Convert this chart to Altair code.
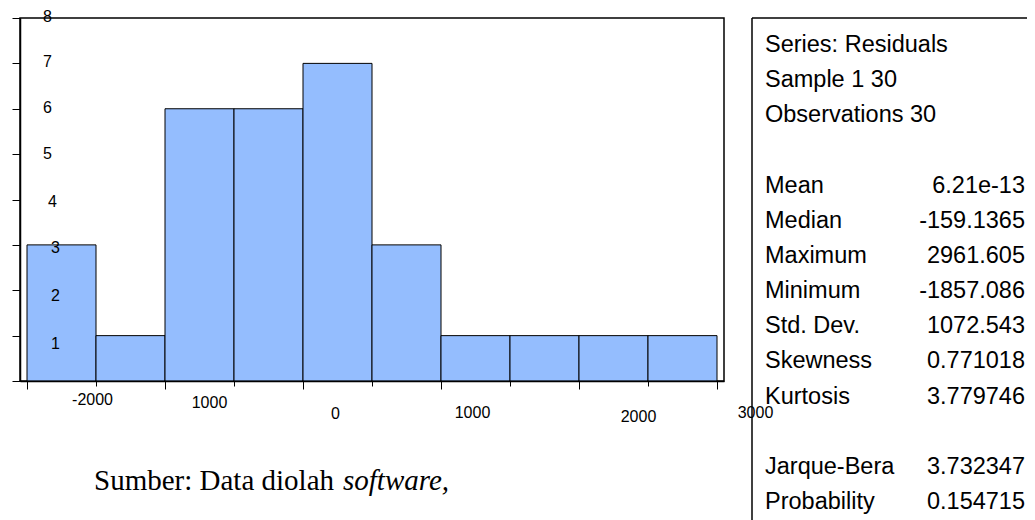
import altair as alt
import pandas as pd

# ---- histogram data ----
bin_start = [-2000, -1500, -1000, -500, 0, 500, 1000, 1500, 2000, 2500]
bin_end = [-1500, -1000, -500, 0, 500, 1000, 1500, 2000, 2500, 3000]
counts = [3, 1, 6, 6, 7, 3, 1, 1, 1, 1]

x_tick_values = [-2000, -1500, -1000, -500, 0, 500, 1000, 1500, 2000, 2500, 3000]
x_major_labels = ["-2000", "1000", "0", "1000", "2000", "3000"]
y_tick_values = [0, 1, 2, 3, 4, 5, 6, 7, 8]

# ---- statistics panel ----
stat_names = ["Series: Residuals", "Sample 1 30", "Observations 30",
              "Mean", "Median", "Maximum", "Minimum", "Std. Dev.",
              "Skewness", "Kurtosis", "Jarque-Bera", "Probability"]
stat_values = ["", "", "",
               "6.21e-13", "-159.1365", "2961.605", "-1857.086", "1072.543",
               "0.771018", "3.779746", "3.732347", "0.154715"]
stat_lines = [0, 1, 2, 4, 5, 6, 7, 8, 9, 10, 12, 13]

source_text = "Sumber: Data diolah"
source_italic = "software,"

hist_df = pd.DataFrame({"start": bin_start, "end": bin_end, "count": counts})
stats_df = pd.DataFrame({"name": stat_names, "value": stat_values, "line": stat_lines})

FONT = "Liberation Sans"
lab_arr = "[" + ",".join("'%s'" % s for s in x_major_labels) + "]"
major_idx = "floor((datum.value + 2000) / 1000)"

x_axis = alt.Axis(
    values=x_tick_values, title=None, grid=False, zindex=1,
    domainColor="black", domainWidth=1.5,
    tickColor="black", tickWidth=1,
    tickSize={"expr": "datum.value % 1000 == 0 ? 8 : 5"},
    labelExpr="datum.value % 1000 == 0 ? " + lab_arr + "[" + major_idx + "] : ''",
    labelOffset={"expr": "[65,44,32,31,59,38][" + major_idx + "]"},
    labelPadding={"expr": "[10,13,24,23,27,23][" + major_idx + "]"},
    labelAlign="center", labelBaseline="middle",
    labelFont=FONT, labelFontSize=16, labelColor="black",
    labelFlush=False, labelOverlap=False,
)

y_axis = alt.Axis(
    values=y_tick_values, title=None, grid=False, format="d", zindex=1,
    domainColor="black", domainWidth=1.5,
    tickColor="black", tickWidth=1, tickSize=8,
    labelExpr="datum.value == 0 ? '' : datum.label",
    labelPadding={"expr": "[-35,-43,-43,-43,-40,-35,-35,-35,-35][datum.value]"},
    labelOffset={"expr": "[0,8,5,3,2,-1,-1,-2,-2][datum.value]"},
    labelAlign="center", labelBaseline="middle",
    labelFont=FONT, labelFontSize=16, labelColor="black",
    labelFlush=False, labelOverlap=False,
)

# x domain widened so bars sit 7px inside the frame on both sides
x_pad = 7 * 5000 / 690
bars = alt.Chart(hist_df).mark_rect(
    fill="#94BDFE", stroke="black", strokeWidth=1
).encode(
    x=alt.X("start:Q", axis=x_axis,
            scale=alt.Scale(domain=[-2000 - x_pad, 3000 + x_pad], nice=False, zero=False)),
    x2="end:Q",
    y=alt.Y("count:Q", axis=y_axis, scale=alt.Scale(domain=[0, 8], nice=False)),
    y2=alt.datum(0),
)

line_scale = alt.Scale(domain=[0, 13], range=[34, 491])

stat_labels = alt.Chart(stats_df).mark_text(
    align="left", baseline="alphabetic", font=FONT, fontSize=23.5, color="black"
).encode(
    x=alt.value(745),
    y=alt.Y("line:Q", scale=line_scale, axis=None),
    text="name:N",
)

stat_vals = alt.Chart(stats_df).mark_text(
    align="right", baseline="alphabetic", font=FONT, fontSize=23.5, color="black"
).encode(
    x=alt.value(1005),
    y=alt.Y("line:Q", scale=line_scale, axis=None),
    text="value:N",
)

one = alt.Data(values=[{"a": 1}])
panel_left = alt.Chart(one).mark_rule(color="black", strokeWidth=1.5).encode(
    x=alt.value(732), y=alt.value(0), y2=alt.value(510))
panel_top = alt.Chart(one).mark_rule(color="black", strokeWidth=1.5).encode(
    x=alt.value(732), x2=alt.value(1012), y=alt.value(0))

src1 = alt.Chart(alt.Data(values=[{"t": source_text}])).mark_text(
    align="left", baseline="alphabetic", font="Liberation Serif", fontSize=29, color="black"
).encode(x=alt.value(74), y=alt.value(472), text="t:N")
src2 = alt.Chart(alt.Data(values=[{"t": source_italic}])).mark_text(
    align="left", baseline="alphabetic", font="Liberation Serif", fontSize=29,
    fontStyle="italic", color="black"
).encode(x=alt.value(323), y=alt.value(472), text="t:N")

chart = alt.layer(
    bars, stat_labels, stat_vals, panel_left, panel_top, src1, src2
).resolve_scale(
    y="independent"
).properties(
    width=704, height=363,
    autosize=alt.AutoSizeParams(type="none"),
    padding={"left": 12, "top": 10, "right": 303, "bottom": 139},
    background="white",
).configure_view(
    stroke="black", strokeWidth=1.5
)

chart.save("out.html", embed_options={"renderer": "svg", "actions": False})
